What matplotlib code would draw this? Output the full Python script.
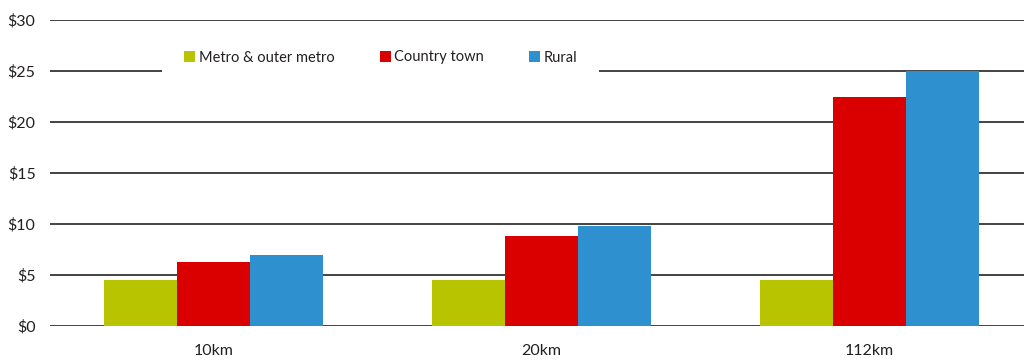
import matplotlib
matplotlib.use("Agg")
import matplotlib.pyplot as plt
from matplotlib.patches import Patch, Rectangle
import numpy as np

# Cost by travel distance and region type
distances = ["10km", "20km", "112km"]
series_names = ["Metro & outer metro", "Country town", "Rural"]
metro = [4.45, 4.45, 4.45]
country_town = [6.2, 8.75, 22.4]
rural = [6.9, 9.75, 25.0]
y_ticks = [0, 5, 10, 15, 20, 25, 30]
y_tick_labels = ["$0", "$5", "$10", "$15", "$20", "$25", "$30"]

colors = ["#B9C400", "#DB0000", "#2E90CF"]
text_color = "#231F20"

plt.rcParams["font.family"] = ["Lato", "DejaVu Sans"]

W, H = 1024, 360
fig = plt.figure(figsize=(W / 100, H / 100), dpi=100)

left_px, right_px = 49.5, 1024
top_px, bottom_px = 19.5, 325.5
ax = fig.add_axes([left_px / W, 1 - bottom_px / H,
                   (right_px - left_px) / W, (bottom_px - top_px) / H])

group_px = 328.0
bar_w = 73.0 / group_px
x = np.arange(len(distances))
for i, (vals, name) in enumerate(zip([metro, country_town, rural], series_names)):
    ax.bar(x + (i - 1) * bar_w, vals, width=bar_w, color=colors[i],
           label=name, zorder=3, linewidth=0)

ax.set_xlim(-0.5, -0.5 + (right_px - left_px) / group_px)
ax.set_ylim(0, 30)
ax.set_yticks(y_ticks)
ax.set_yticklabels(y_tick_labels)
ax.set_xticks(x)
ax.set_xticklabels(distances)
ax.tick_params(axis="both", length=0, labelsize=11.5, colors=text_color)
ax.tick_params(axis="y", pad=10)
ax.tick_params(axis="x", pad=13)

ax.yaxis.grid(True, color="#111111", linewidth=1.1, zorder=1)
ax.set_axisbelow(True)
for s in ax.spines.values():
    s.set_visible(False)

# White panel behind the legend, breaking the $25 gridline
ax.add_patch(Rectangle((162 / W, 1 - 78 / H), (599 - 162) / W, 40 / H,
                       transform=fig.transFigure, facecolor="white",
                       edgecolor="none", zorder=2, clip_on=False))

handles = [Patch(facecolor=c, edgecolor="none") for c in colors]
leg = ax.legend(handles, series_names, loc="center", ncol=3,
                bbox_to_anchor=(381 / W, 1 - 57.5 / H),
                bbox_transform=fig.transFigure, frameon=False,
                fontsize=10.5, handlelength=0.75, handleheight=0.75,
                handletextpad=0.25, columnspacing=3.1, labelcolor=text_color)
leg.set_zorder(5)

fig.savefig("out.png", dpi=100, facecolor="white")
